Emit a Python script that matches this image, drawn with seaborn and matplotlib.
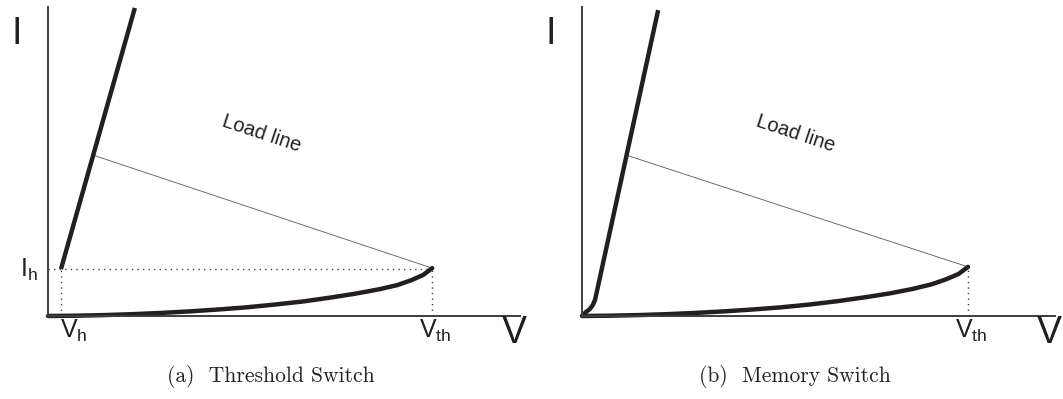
import matplotlib
matplotlib.use("Agg")
import matplotlib.pyplot as plt
import seaborn as sns

# ---- (a) threshold switch: normalised voltage / current ----
ts_off_v = [0.000, 0.060, 0.120, 0.180, 0.240, 0.300, 0.360, 0.420, 0.480,
            0.540, 0.600, 0.650, 0.700, 0.740, 0.770, 0.795, 0.814]
ts_off_i = [0.000, 0.001, 0.003, 0.006, 0.010, 0.015, 0.021, 0.028, 0.037,
            0.047, 0.060, 0.072, 0.086, 0.100, 0.116, 0.133, 0.155]
ts_on_v = [0.0275, 0.184]
ts_on_i = [0.152, 0.997]
ts_load_v = [0.095, 0.814]
ts_load_i = [0.521, 0.155]
ts_vh, ts_ih = 0.0275, 0.152
ts_vth, ts_ith = 0.814, 0.155

# ---- (b) memory switch ----
ms_off_v = [0.000, 0.060, 0.120, 0.180, 0.240, 0.300, 0.360, 0.420, 0.480,
            0.540, 0.600, 0.650, 0.700, 0.740, 0.770, 0.796, 0.816]
ms_off_i = [0.000, 0.001, 0.003, 0.006, 0.010, 0.015, 0.021, 0.028, 0.037,
            0.048, 0.061, 0.073, 0.088, 0.103, 0.119, 0.136, 0.159]
ms_on_v = [0.000, 0.0085, 0.017, 0.023, 0.0275, 0.032, 0.161]
ms_on_i = [0.000, 0.013, 0.023, 0.036, 0.052, 0.083, 0.990]
ms_load_v = [0.099, 0.816]
ms_load_i = [0.518, 0.159]
ms_vth, ms_ith = 0.816, 0.159

captions = ["(a)  Threshold Switch", "(b)  Memory Switch"]

sns.set_theme(style="white")
plt.rcParams["font.family"] = ["Liberation Sans", "DejaVu Sans"]
plt.rcParams["mathtext.fontset"] = "custom"
plt.rcParams["mathtext.rm"] = "Liberation Sans"

INK = "#231f20"
AXIS = "#3d3d3d"
DOT = (0, (1, 3))

fig = plt.figure(figsize=(10.63, 3.99), dpi=100)
ax_a = fig.add_axes([0.04516, 0.2080, 0.4440, 0.7744])
ax_b = fig.add_axes([0.5475, 0.2080, 0.4450, 0.7744])


def style_axes(ax):
    ax.set_xlim(0, 1)
    ax.set_ylim(0, 1)
    ax.set_xticks([])
    ax.set_yticks([])
    for side in ("top", "right"):
        ax.spines[side].set_visible(False)
    for side in ("left", "bottom"):
        ax.spines[side].set_color(AXIS)
        ax.spines[side].set_linewidth(1.4)
    ax.set_facecolor("none")


def curve(ax, v, i, **kw):
    sns.lineplot(x=v, y=i, ax=ax, sort=False, estimator=None, **kw)


for ax in (ax_a, ax_b):
    style_axes(ax)

# threshold switch
curve(ax_a, [0, ts_vth], [ts_ih, ts_ih], color="#444444", lw=1.0, linestyle=DOT)
curve(ax_a, [ts_vh, ts_vh], [0, ts_ih], color="#444444", lw=1.0, linestyle=DOT)
curve(ax_a, [ts_vth, ts_vth], [0, ts_ith], color="#444444", lw=1.0, linestyle=DOT)
curve(ax_a, ts_load_v, ts_load_i, color="#555555", lw=0.6)
curve(ax_a, ts_off_v, ts_off_i, color=INK, lw=3.2, clip_on=False,
      solid_capstyle="round", solid_joinstyle="round")
curve(ax_a, ts_on_v, ts_on_i, color=INK, lw=3.2, clip_on=False,
      solid_capstyle="butt")

# memory switch
curve(ax_b, [ms_vth, ms_vth], [0, ms_ith], color="#444444", lw=1.0, linestyle=DOT)
curve(ax_b, ms_load_v, ms_load_i, color="#555555", lw=0.6)
curve(ax_b, ms_off_v, ms_off_i, color=INK, lw=3.2, clip_on=False,
      solid_capstyle="round", solid_joinstyle="round")
curve(ax_b, ms_on_v, ms_on_i, color=INK, lw=3.2, clip_on=False,
      solid_capstyle="butt", solid_joinstyle="round")

TXT = "#231f20"
for ax, vth in ((ax_a, ts_vth), (ax_b, ms_vth)):
    ax.text(-0.066, 0.913, "I", fontsize=27, color=TXT, ha="center", va="center")
    ax.text(0.989, -0.055, "V", fontsize=27, color=TXT, ha="center", va="center")
    ax.text(vth - 0.028, -0.072, r"$\mathregular{V_{th}}$", fontsize=18,
            color=TXT, ha="left", va="baseline")
    ax.text(0.452, 0.590, "Load line", fontsize=14.5, color=TXT,
            ha="center", va="center", rotation=-18.3, rotation_mode="anchor")

ax_a.text(-0.021, 0.126, r"$\mathregular{I_h}$", fontsize=18, color=TXT,
          ha="right", va="baseline")
ax_a.text(0.025, -0.072, r"$\mathregular{V_h}$", fontsize=18, color=TXT,
          ha="left", va="baseline")

fig.text(271 / 1063, 1 - 376 / 399, captions[0], fontsize=15.5,
         family="cmr10", ha="center", va="center", color="#222222")
fig.text(795 / 1063, 1 - 376 / 399, captions[1], fontsize=15.5,
         family="cmr10", ha="center", va="center", color="#222222")

fig.savefig("out.png", dpi=100, facecolor="white")
